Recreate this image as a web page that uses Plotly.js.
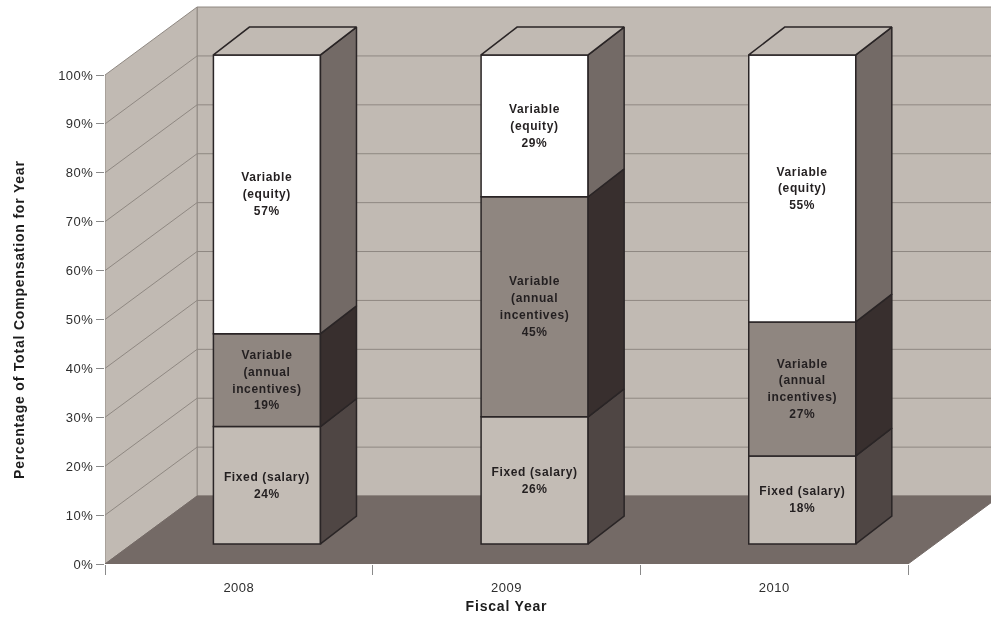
<!DOCTYPE html>
<html><head><meta charset="utf-8">
<script src="https://cdn.plot.ly/plotly-3.0.1.min.js"></script>
<style>html,body{margin:0;padding:0;background:#fff}
#c{width:991px;height:621px;filter:blur(0.45px)}
#c .bartext{letter-spacing:0.62px}
#c .annotation-text{letter-spacing:0.8px}
#c .xtick text,#c .ytick text{letter-spacing:0.5px}
</style>
</head><body><div id="c"></div>
<script>
const years = ['2008','2009','2010'];
const yTicks = [0,10,20,30,40,50,60,70,80,90,100];
const salary = [24,26,18];
const annual = [19,45,27.4];
const equity = [57,29,54.6];
const salaryLabel = ['Fixed (salary)','Fixed (salary)','Fixed (salary)'];
const annualLabel = ['Variable<br>(annual<br>incentives)','Variable<br>(annual<br>incentives)','Variable<br>(annual<br>incentives)'];
const equityLabel = ['Variable<br>(equity)','Variable<br>(equity)','Variable<br>(equity)'];
const xTitle = 'Fiscal Year';
const yTitle = 'Percentage of Total Compensation for Year';

const wallDX=0.344, wallDY=13.9, barW=0.4, barShift=0.105, barBase=4.1, barDX=0.1345, barDY=5.7;
const barX = years.map((_,i)=>i+0.5+barShift);
const INK='#2a2526', GRID='#8f8882', WALL='#c1bab3', FLOOR='#746a66';

const shapes=[];
function poly(pts,fill,line){
  shapes.push({type:'path',layer:'below',xref:'x',yref:'y',
    path:'M'+pts.map(p=>p[0]+','+p[1]).join('L')+'Z',fillcolor:fill,line:{color:line,width:1}});
}
const n=years.length;
poly([[wallDX,wallDY],[n+wallDX,wallDY],[n+wallDX,100+wallDY],[wallDX,100+wallDY]],WALL,GRID);
poly([[0,0],[wallDX,wallDY],[wallDX,100+wallDY],[0,100]],WALL,GRID);
poly([[0,0],[n,0],[n+wallDX,wallDY],[wallDX,wallDY]],FLOOR,FLOOR);
yTicks.slice(1,-1).forEach(t=>{
  shapes.push({type:'path',layer:'below',xref:'x',yref:'y',
    path:`M0,${t}L${wallDX},${t+wallDY}L${n+wallDX},${t+wallDY}`,line:{color:GRID,width:1}});
});

const series=[
 {vals:salary,lab:salaryLabel,front:'#c3bcb5',side:'#4f4644'},
 {vals:annual,lab:annualLabel,front:'#8f8680',side:'#382f2e'},
 {vals:equity,lab:equityLabel,front:'#ffffff',side:'#736a66'}];
const traces=[];
const bottoms=years.map(()=>barBase);
series.forEach(s=>{
  const base=bottoms.slice();
  traces.push({type:'bar',x:barX,y:s.vals,base:base,width:barW,
    marker:{color:s.front,line:{color:INK,width:1.5}},
    text:s.vals.map((v,i)=>`<span style="font-size:12px;font-weight:bold">${s.lab[i]}<br>${Math.round(v)}%</span>`),
    textposition:'inside',insidetextanchor:'middle',textangle:0,constraintext:'none',
    insidetextfont:{family:'Liberation Sans, Arial, sans-serif',size:13,color:'#231f20'},
    hoverinfo:'skip',showlegend:false});
  const xs=[],ys=[];
  s.vals.forEach((v,i)=>{
    const r=barX[i]+barW/2, b=base[i], t=b+v;
    xs.push(r,r+barDX,r+barDX,r,r,null);
    ys.push(b,b+barDY,t+barDY,t,b,null);
    bottoms[i]=t;
  });
  traces.push({type:'scatter',mode:'lines',x:xs,y:ys,fill:'toself',fillcolor:s.side,
    line:{color:INK,width:1.5},hoverinfo:'skip',showlegend:false});
});
const tx=[],ty=[];
bottoms.forEach((t,i)=>{
  const l=barX[i]-barW/2,r=barX[i]+barW/2;
  tx.push(l,r,r+barDX,l+barDX,l,null);
  ty.push(t,t,t+barDY,t+barDY,t,null);
});
traces.push({type:'scatter',mode:'lines',x:tx,y:ty,fill:'toself',fillcolor:WALL,
  line:{color:INK,width:1.5},hoverinfo:'skip',showlegend:false});

const F='Liberation Sans, Arial, sans-serif';
const titleFont={family:F,size:14,color:'#1c1c1c',weight:700};
Plotly.newPlot('c',traces,{
  width:991,height:621,margin:{l:105,r:0,t:5,b:57},
  paper_bgcolor:'#fff',plot_bgcolor:'#fff',showlegend:false,barmode:'overlay',
  shapes:shapes,
  annotations:[
    {text:xTitle,xref:'x',x:n/2,yref:'paper',y:-42/559,xanchor:'center',yanchor:'middle',showarrow:false,font:titleFont},
    {text:yTitle,xref:'paper',x:-87/886,yref:'y',y:50,xanchor:'center',yanchor:'middle',textangle:-90,showarrow:false,font:titleFont}
  ],
  xaxis:{range:[0,(991-105)/267.67],showgrid:false,zeroline:false,showline:false,
    tickmode:'array',tickvals:years.map((_,i)=>i+0.5),ticktext:years,
    ticks:'outside',ticklen:11,tickcolor:'rgba(0,0,0,0)',
    minor:{tickmode:'array',tickvals:[0,1,2,3],ticks:'outside',ticklen:10,tickcolor:'#8a8a8a',tickwidth:1},
    tickfont:{family:F,size:13,color:'#2e2e2e'}},
  yaxis:{range:[0,559/4.89],showgrid:false,zeroline:false,showline:false,
    tickmode:'array',tickvals:yTicks,ticktext:yTicks.map(t=>t+'%'),
    ticks:'outside',ticklen:8,tickcolor:'#8a8a8a',tickwidth:1,
    tickfont:{family:F,size:13,color:'#2e2e2e'}}
},{displayModeBar:false,staticPlot:true});
</script></body></html>
